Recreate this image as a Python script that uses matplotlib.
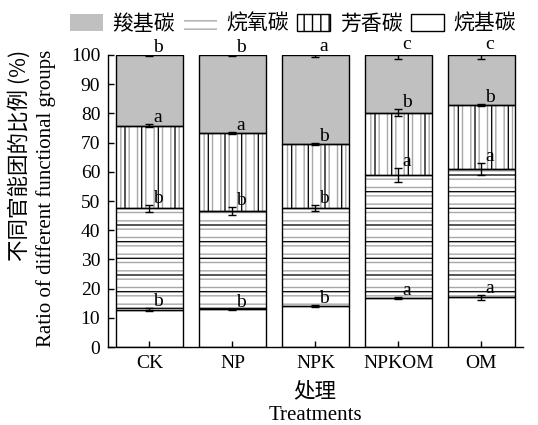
import numpy as np
import matplotlib
matplotlib.use('Agg')
from matplotlib import pyplot as plt
from matplotlib.patches import Patch

# carbon functional groups per treatment (%), stacked bottom to top
treatments = ['CK', 'NP', 'NPK', 'NPKOM', 'OM']
alkyl = [12.8, 12.9, 14.0, 16.7, 17.0]
o_alkyl = [34.7, 33.7, 33.5, 42.2, 44.0]
aromatic = [28.2, 26.8, 22.1, 21.3, 21.9]
carboxyl = [24.3, 26.6, 30.4, 19.8, 17.1]

alkyl_err = [0.6, 0.2, 0.3, 0.3, 0.8]
o_alkyl_err = [1.2, 1.3, 1.0, 2.3, 2.0]
aromatic_err = [0.5, 0.3, 0.3, 1.2, 0.3]
carboxyl_err = [0.3, 0.3, 0.6, 1.4, 1.4]

alkyl_sig = ['b', 'b', 'b', 'a', 'a']
o_alkyl_sig = ['b', 'b', 'b', 'a', 'a']
aromatic_sig = ['a', 'a', 'b', 'b', 'b']
carboxyl_sig = ['b', 'b', 'a', 'c', 'c']

legend_labels = ['羧基碳', '烷氧碳', '芳香碳', '烷基碳']

plt.rcParams['font.family'] = ['Liberation Serif', 'Noto Sans CJK SC']
plt.rcParams['hatch.linewidth'] = 1.0
cjk = ['Noto Sans CJK SC', 'Liberation Serif']

fig = plt.figure(figsize=(5.38, 4.25), dpi=100)
ax = fig.add_axes([0.2007, 0.1835, 0.7713, 0.6871])

x = np.arange(len(treatments))
w = 0.8
grey_line = '#a8a8a8'


def segment(bottom, height, face, hatch=None, hatch_fine=None):
    '''draw one stacked segment: fill, optional two-tone hatching, outline'''
    ax.bar(x, height, w, bottom=bottom, color=face, linewidth=0, zorder=1)
    if hatch_fine:
        ax.bar(x, height, w, bottom=bottom, fill=False, edgecolor=grey_line,
               hatch=hatch_fine, linewidth=0, zorder=2)
    if hatch:
        ax.bar(x, height, w, bottom=bottom, fill=False, edgecolor='#111111',
               hatch=hatch, linewidth=0, zorder=3)
    ax.bar(x, height, w, bottom=bottom, fill=False, edgecolor='black',
           linewidth=1.0, zorder=4)


def marks(top, err, sig):
    '''error bars and significance letters at the segment tops'''
    ax.errorbar(x, top, yerr=err, fmt='none', ecolor='black', elinewidth=1,
                capsize=3, capthick=1, zorder=5)
    for xi, t, e, s in zip(x, top, err, sig):
        ax.text(xi + 0.1, t + e - 0.6, s, ha='center', va='bottom',
                fontsize=14, zorder=6)


alkyl = np.array(alkyl)
o_alkyl = np.array(o_alkyl)
aromatic = np.array(aromatic)
carboxyl = np.array(carboxyl)

b1 = alkyl
b2 = b1 + o_alkyl
b3 = b2 + aromatic

segment(0, alkyl, 'white')
segment(b1, o_alkyl, 'white', hatch='-', hatch_fine='--')
segment(b2, aromatic, 'white', hatch='|', hatch_fine='||')
segment(b3, carboxyl, '#c0c0c0')

marks(b1, alkyl_err, alkyl_sig)
marks(b2, o_alkyl_err, o_alkyl_sig)
marks(b3, aromatic_err, aromatic_sig)
marks(b3 + carboxyl, carboxyl_err, carboxyl_sig)

ax.set_xlim(-0.5, len(treatments) - 0.5)
ax.set_ylim(0, 100)
ax.set_yticks(np.arange(0, 101, 10))
ax.set_xticks(x)
ax.set_xticklabels(treatments)
ax.tick_params(direction='in', length=4, width=1, labelsize=14)
ax.tick_params(axis='y', pad=5.5)
ax.tick_params(axis='x', pad=6)
for side in ['top', 'right']:
    ax.spines[side].set_visible(False)
for side in ['left', 'bottom']:
    ax.spines[side].set_linewidth(1)

# two-line axis titles, Chinese over English
fig.text(19 / 538, 1 - 50 / 425, '不同官能团的比例 (%)', rotation=90,
         ha='center', va='top', fontsize=15.5, family=cjk)
fig.text(46 / 538, 1 - 50 / 425, 'Ratio of different functional groups',
         rotation=90, ha='center', va='top', fontsize=15)
fig.text(315 / 538, 1 - 391 / 425, '处理', ha='center', va='center',
         fontsize=15.5, family=cjk)
fig.text(315 / 538, 1 - 415 / 425, 'Treatments', ha='center', va='center',
         fontsize=15)

handles = [
    Patch(facecolor='#c0c0c0', edgecolor='none'),
    Patch(facecolor='white', edgecolor=grey_line, hatch='--', linewidth=0),
    Patch(facecolor='white', edgecolor='black', hatch='||', linewidth=1),
    Patch(facecolor='white', edgecolor='black', linewidth=1),
]
fig.legend(handles, legend_labels, loc='center', ncol=4, frameon=False,
           bbox_to_anchor=(293 / 538, 1 - 24 / 425), prop={'family': cjk, 'size': 15},
           handlelength=1.6, handleheight=0.9, handletextpad=0.45,
           columnspacing=0.4, borderaxespad=0, borderpad=0)

fig.savefig('out.png', dpi=100)
